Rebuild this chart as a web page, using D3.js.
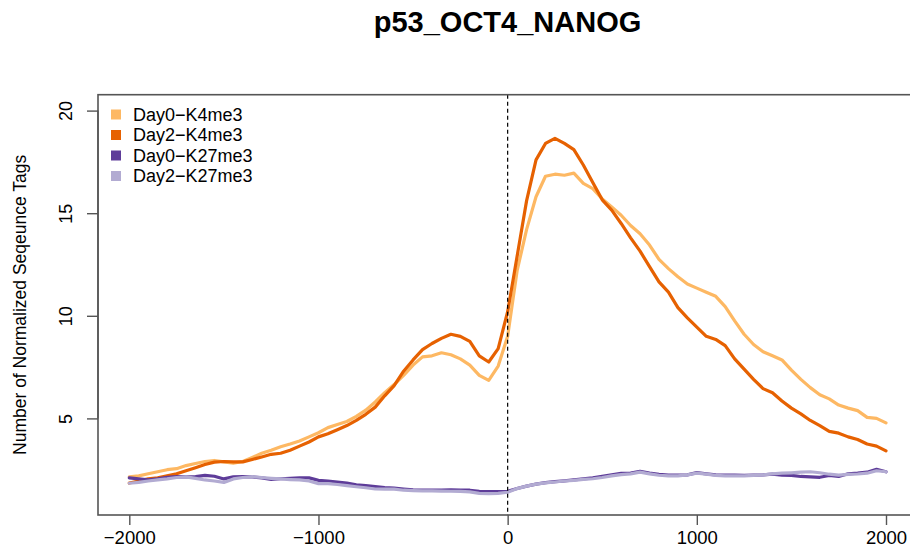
<!DOCTYPE html>
<html>
<head>
<meta charset="utf-8">
<script src="https://cdn.jsdelivr.net/npm/d3@7/dist/d3.min.js"></script>
<style>
  html, body { margin: 0; padding: 0; background: #fff; }
  svg { display: block; font-family: "Liberation Sans", Arial, Helvetica, sans-serif; }
</style>
</head>
<body>
<svg id="chart" width="910" height="557"></svg>
<script>
// ---- Data ----
const positions = d3.range(-2000, 2001, 50);

const day0K4me3 = [2.15,2.2,2.3,2.4,2.5,2.55,2.7,2.8,2.9,2.95,2.88,2.82,2.9,3.1,3.3,3.45,3.62,3.75,3.9,4.1,
  4.3,4.55,4.7,4.85,5.1,5.4,5.8,6.25,6.65,7.1,7.6,8.0,8.05,8.2,8.1,7.9,7.6,7.1,6.85,7.55,
  9.0,12.2,14.2,15.8,16.8,16.9,16.85,16.95,16.45,16.2,15.7,15.3,14.9,14.4,14.0,13.45,12.75,12.3,11.9,11.55,
  11.35,11.15,10.95,10.45,9.75,9.1,8.6,8.25,8.05,7.85,7.35,6.9,6.5,6.15,5.95,5.65,5.5,5.38,5.05,5.0,4.78];

const day2K4me3 = [1.85,1.95,2.05,2.1,2.2,2.3,2.45,2.6,2.75,2.87,2.9,2.88,2.88,3.0,3.12,3.25,3.3,3.45,3.65,3.85,
  4.1,4.25,4.45,4.65,4.9,5.2,5.55,6.1,6.6,7.3,7.85,8.35,8.65,8.9,9.1,9.0,8.75,8.05,7.75,8.4,
  10.2,12.9,15.6,17.6,18.4,18.65,18.4,18.1,17.35,16.5,15.65,15.15,14.5,13.8,13.15,12.4,11.65,11.15,10.4,9.9,
  9.45,9.0,8.85,8.55,7.9,7.4,6.9,6.45,6.25,5.85,5.5,5.22,4.9,4.65,4.37,4.28,4.1,3.97,3.75,3.65,3.42];

const day0K27me3 = [2.1,2.05,2.0,2.05,2.13,2.16,2.15,2.16,2.22,2.18,2.05,2.15,2.16,2.15,2.1,2.03,2.06,2.08,2.1,2.1,
  1.98,1.95,1.9,1.85,1.76,1.72,1.68,1.63,1.6,1.56,1.52,1.5,1.51,1.51,1.52,1.5,1.5,1.45,1.43,1.43,
  1.45,1.58,1.7,1.8,1.87,1.92,1.96,2.0,2.05,2.1,2.18,2.25,2.32,2.33,2.42,2.33,2.27,2.24,2.24,2.25,
  2.36,2.3,2.25,2.24,2.24,2.23,2.24,2.25,2.28,2.24,2.22,2.17,2.15,2.13,2.22,2.17,2.3,2.33,2.38,2.52,2.4];

const day2K27me3 = [1.84,1.88,1.95,2.0,2.05,2.12,2.15,2.08,2.0,1.95,1.88,2.05,2.12,2.16,2.12,2.08,2.05,2.02,2.0,1.95,
  1.82,1.82,1.78,1.72,1.67,1.62,1.56,1.55,1.55,1.5,1.48,1.47,1.47,1.46,1.45,1.44,1.42,1.35,1.33,1.35,
  1.4,1.58,1.7,1.8,1.86,1.9,1.95,1.98,2.03,2.06,2.12,2.2,2.26,2.3,2.38,2.3,2.23,2.2,2.2,2.25,
  2.33,2.28,2.22,2.2,2.2,2.2,2.22,2.25,2.3,2.33,2.35,2.38,2.4,2.35,2.28,2.24,2.27,2.29,2.33,2.45,2.4];

const seriesNames = ["Day0\u2212K4me3", "Day2\u2212K4me3", "Day0\u2212K27me3", "Day2\u2212K27me3"];
const seriesColors = ["#fdb863", "#e66101", "#5e3c99", "#b2abd2"];
const seriesValues = [day0K4me3, day2K4me3, day0K27me3, day2K27me3];

const xTicks = [-2000, -1000, 0, 1000, 2000];
const yTicks = [5, 10, 15, 20];
const titleText = "p53_OCT4_NANOG";
const yLabelText = "Number of Normalized Seqeunce Tags";

// ---- Layout ----
const svg = d3.select("#chart");
const box = { left: 98, right: 917, top: 94.7, bottom: 515 };

const x = d3.scaleLinear().domain([-2000, 2000]).range([129.3, 886]);
const y = d3.scaleLinear().domain([0, 20]).range([521, 110.6]);

svg.append("defs").append("clipPath").attr("id", "clip")
  .append("rect").attr("x", box.left).attr("y", box.top)
  .attr("width", box.right - box.left).attr("height", box.bottom - box.top);

// Title
svg.append("text").attr("x", 507.5).attr("y", 32)
  .attr("text-anchor", "middle").attr("font-weight", "bold")
  .attr("font-size", 29).attr("fill", "#000").text(titleText);

// Lines
const line = d3.line().x((d, i) => x(positions[i])).y(d => y(d));
const g = svg.append("g").attr("clip-path", "url(#clip)");
seriesValues.forEach((vals, k) => {
  g.append("path").datum(vals)
    .attr("d", line).attr("fill", "none")
    .attr("stroke", seriesColors[k]).attr("stroke-width", 3.2)
    .attr("stroke-linejoin", "round").attr("stroke-linecap", "round");
});

// Dashed vertical line at 0
svg.append("line").attr("x1", x(0)).attr("x2", x(0))
  .attr("y1", box.top).attr("y2", box.bottom)
  .attr("stroke", "#000").attr("stroke-width", 1.2).attr("stroke-dasharray", "4,3");

// Box
svg.append("rect").attr("x", box.left).attr("y", box.top)
  .attr("width", box.right - box.left).attr("height", box.bottom - box.top)
  .attr("fill", "none").attr("stroke", "#555").attr("stroke-width", 1.6);

// X axis
const xAxis = d3.axisBottom(x).tickValues(xTicks).tickSize(10).tickPadding(6)
  .tickFormat(d3.format("d"));
const gx = svg.append("g").attr("transform", `translate(0,${box.bottom})`).call(xAxis);
gx.select(".domain").remove();
gx.selectAll(".tick line").attr("stroke", "#555").attr("stroke-width", 1.4);
gx.selectAll(".tick text").attr("font-size", 18.5).attr("fill", "#000")
  .attr("font-family", "'Liberation Sans', Arial, sans-serif").attr("dy", "0.71em");

// Y axis
const yAxis = d3.axisLeft(y).tickValues(yTicks).tickSize(11).tickPadding(0);
const gy = svg.append("g").attr("transform", `translate(${box.left},0)`).call(yAxis);
gy.select(".domain").attr("stroke", "#555").attr("stroke-width", 1.4)
  .attr("d", `M0,${y(5)}V${y(20)}`);
gy.selectAll(".tick line").attr("stroke", "#555").attr("stroke-width", 1.4);
gy.selectAll(".tick text")
  .attr("font-size", 18).attr("fill", "#000")
  .attr("font-family", "'Liberation Sans', Arial, sans-serif")
  .attr("x", null).attr("dy", null)
  .attr("text-anchor", "middle")
  .attr("transform", "translate(-26,0) rotate(-90)");

// Y label
svg.append("text")
  .attr("transform", `translate(26,${(box.top + box.bottom) / 2}) rotate(-90)`)
  .attr("text-anchor", "middle").attr("font-size", 17.5).attr("fill", "#000")
  .text(yLabelText);

// Legend
const leg = svg.append("g");
seriesNames.forEach((name, i) => {
  const cy = 114.5 + i * 20.5;
  leg.append("rect").attr("x", 111).attr("y", cy - 5).attr("width", 10).attr("height", 10)
    .attr("fill", seriesColors[i]);
  leg.append("text").attr("x", 133).attr("y", cy).attr("dy", "0.36em")
    .attr("font-size", 18).attr("fill", "#000").text(name);
});
</script>
</body>
</html>
